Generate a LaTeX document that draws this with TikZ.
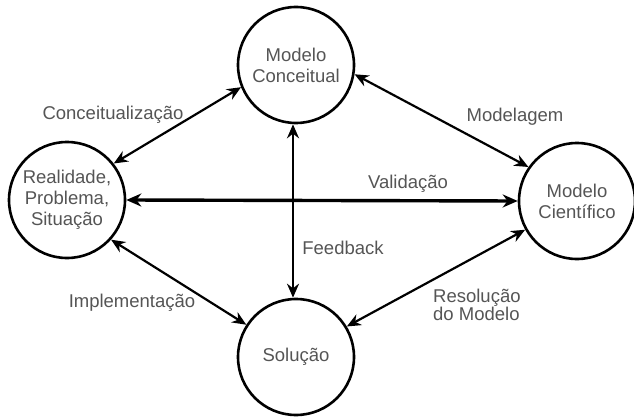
\documentclass[tikz,border=0pt]{standalone}
\usepackage{fontspec}
\setmainfont{Liberation Sans}
\usetikzlibrary{arrows.meta}
\definecolor{txt}{HTML}{555555}
\tikzset{
  stage/.style={circle, draw=black, line width=2.6pt, minimum size=116pt, inner sep=0pt,
    align=center, text=txt, font=\fontsize{18.5}{21}\selectfont},
  lbl/.style={text=txt, font=\fontsize{18.5}{16}\selectfont, inner sep=0pt},
  link/.style={line width=2.2pt, {Stealth[length=14pt,width=12pt]}-{Stealth[length=14pt,width=12pt]}},
  strong/.style={line width=3.4pt, {Stealth[length=15pt,width=13pt]}-{Stealth[length=15pt,width=13pt]}}
}
\begin{document}
\begin{tikzpicture}[x=1pt,y=-1pt]
\useasboundingbox[fill=white] (0,0) rectangle (634,417);
\node[stage] (T) at (296,65) {Modelo\\Conceitual};
\node[stage] (L) at (67,200) {Realidade,\\Problema,\\Situação};
\node[stage] (R) at (577,201) {Modelo\\Científico};
\node[stage] (B) at (296,357) {Solução};

\draw[link] (L.38) -- (T.202);
\draw[link] (T.351) -- (R.145);
\draw[strong] (L.east) -- (R.west);
\draw[link] ([xshift=-3pt]T.south) -- ([xshift=-3pt]B.north);
\draw[link] (L.318) -- (B.147);
\draw[link] (R.209) -- (B.31);

\node[lbl] (l1) at (113,115) {Conceitualização};
\node[lbl] (l2) at (515,117) {Modelagem};
\node[lbl] (l3) at (408,184) {Validação};
\node[lbl] (l4) at (343,248) {Feedback};
\node[lbl] (l5) at (132,303) {Implementação};
\node[lbl, align=left, anchor=west] (l6) at (433,305) {Resolução\\do Modelo};
\end{tikzpicture}
\end{document}
